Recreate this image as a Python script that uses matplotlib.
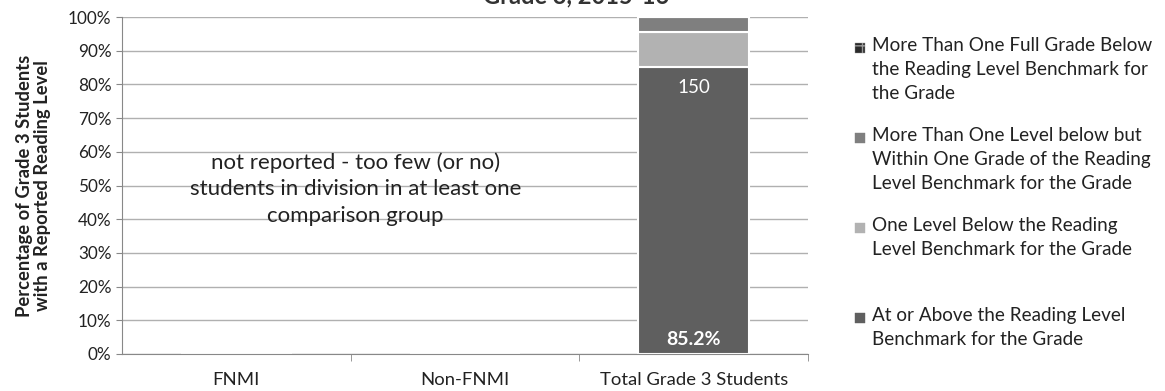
import matplotlib
matplotlib.use("Agg")
import matplotlib.pyplot as plt
from matplotlib.patches import Rectangle

plt.rcParams['font.family'] = ['Lato', 'DejaVu Sans']

# data
groups = ['FNMI', 'Non-FNMI', 'Total Grade 3 Students']
at_or_above = [0, 0, 85.2]
one_level_below = [0, 0, 10.4]
more_than_one_level = [0, 0, 4.4]
full_grade_below = [0, 0, 0.0]
total_count = [None, None, 150]

series_labels = [
    'More Than One Full Grade Below\nthe Reading Level Benchmark for\nthe Grade',
    'More Than One Level below but\nWithin One Grade of the Reading\nLevel Benchmark for the Grade',
    'One Level Below the Reading\nLevel Benchmark for the Grade',
    'At or Above the Reading Level\nBenchmark for the Grade',
]

fig = plt.figure(figsize=(11.65, 3.91), dpi=100)
ax = fig.add_axes([122 / 1165, 1 - 354 / 391, 686 / 1165, 337 / 391])

x = [0, 1, 2]
w = 0.485
edge = dict(edgecolor='white', linewidth=1.5)
ax.bar(x, at_or_above, w, color='#5f5f5f', **edge)
ax.bar(x, one_level_below, w, bottom=at_or_above, color='#b2b2b2', **edge)
bottom3 = [a + b for a, b in zip(at_or_above, one_level_below)]
ax.bar(x, more_than_one_level, w, bottom=bottom3, color='#7f7f7f', **edge)
bottom4 = [a + b for a, b in zip(bottom3, more_than_one_level)]
ax.bar(x, full_grade_below, w, bottom=bottom4, color='#2a2a2a', **edge)

# labels in bar
for xi, v, n in zip(x, at_or_above, total_count):
    if n is not None:
        ax.text(xi, v - 3.5, str(n), color='white', ha='center', va='top', fontsize=13.5)
        ax.text(xi, 1.8, f'{v}%', color='white', ha='center', va='bottom',
                fontsize=14, fontweight='bold')

ax.text(0.52, 49, 'not reported - too few (or no)\nstudents in division in at least one\ncomparison group',
        ha='center', va='center', fontsize=16, color='#222222', linespacing=1.4)

ax.set_xlim(-0.5, 2.5)
ax.set_ylim(0, 100)
ax.set_yticks(range(0, 101, 10))
ax.set_yticklabels([f'{t}%' for t in range(0, 101, 10)], fontsize=12.3, color='#222222')
ax.set_xticks(x)
ax.set_xticklabels(groups, fontsize=13.3, color='#222222')
ax.set_xticks([0.5, 1.5, 2.5], minor=True)
ax.tick_params(axis='x', which='major', length=0, pad=13)
ax.tick_params(axis='x', which='minor', length=5, color='#888888')
ax.tick_params(axis='y', length=4, color='#888888')
ax.grid(axis='y', color='#b0b0b0', linewidth=1)
ax.set_axisbelow(True)
for s in ['top', 'right']:
    ax.spines[s].set_visible(False)
ax.spines['left'].set_color('#888888')
ax.spines['bottom'].set_color('#888888')

ax.set_ylabel('Percentage of Grade 3 Students\nwith a Reported Reading Level',
              fontsize=13.2, fontweight='bold', labelpad=12, color='#222222',
              linespacing=1.1)

# title, partly cut off at top as in the source
fig.text(576 / 1165, 1 - 3 / 391, 'Grade 3, 2015-16', ha='center', va='baseline',
         fontsize=17, fontweight='bold', color='#333333')

# legend drawn by hand
colors = ['#2a2a2a', '#7f7f7f', '#b2b2b2', '#5f5f5f']
hatches = ['++', None, None, None]
tops = [37, 127, 217, 307]
for lab, c, h, t in zip(series_labels, colors, hatches, tops):
    fig.patches.append(Rectangle((855 / 1165, 1 - (t + 16) / 391), 10 / 1165, 10 / 391,
                                 transform=fig.transFigure, facecolor=c,
                                 edgecolor='#999999' if h else c, hatch=h, linewidth=0.3))
    fig.text(872 / 1165, 1 - t / 391, lab, ha='left', va='top', fontsize=13.6,
             color='#222222', linespacing=1.5)

fig.savefig('out.png', dpi=100)
